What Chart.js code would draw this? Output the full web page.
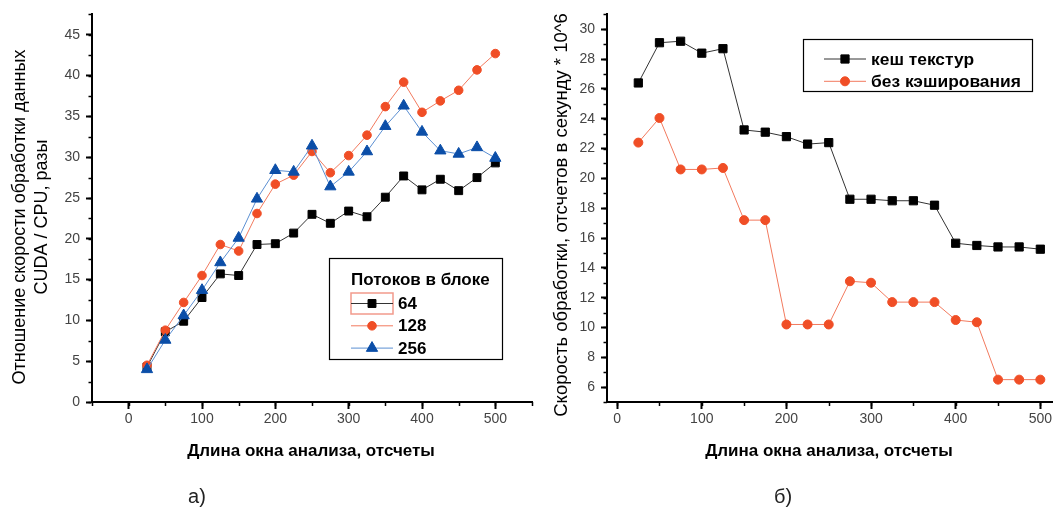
<!DOCTYPE html>
<html>
<head>
    <meta charset="UTF-8">
    <title>CUDA / CPU</title>
    <script src="https://cdn.jsdelivr.net/npm/chart.js"></script>
    <style>
        body { margin: 0; background: #fff; }
        canvas { position: absolute; top: 0; }
        #chartA { left: 0; }
        #chartB { left: 540px; }
    </style>
</head>
<body>
    <canvas id="chartA" width="540" height="510"></canvas>
    <canvas id="chartB" width="514" height="510"></canvas>

    <script>
        // data
        var windowLen = [25, 50, 75, 100, 125, 150, 175, 200, 225, 250, 275, 300, 325, 350, 375, 400, 425, 450, 475, 500];

        // a) speed-up, threads per block
        var threads64 = [4.3, 8.6, 9.9, 12.8, 15.7, 15.5, 19.3, 19.4, 20.7, 23.0, 21.9, 23.4, 22.7, 25.1, 27.7, 26.0, 27.3, 25.9, 27.5, 29.3];
        var threads128 = [4.5, 8.8, 12.2, 15.5, 19.3, 18.5, 23.1, 26.7, 27.8, 30.7, 28.1, 30.2, 32.7, 36.2, 39.2, 35.5, 36.9, 38.2, 40.7, 42.7];
        var threads256 = [4.0, 7.6, 10.6, 13.7, 17.1, 20.1, 24.9, 28.4, 28.2, 31.4, 26.4, 28.2, 30.7, 33.8, 36.3, 33.1, 30.8, 30.4, 31.2, 29.9];

        // b) samples per second * 10^6
        var texCache = [26.4, 29.1, 29.2, 28.4, 28.7, 23.25, 23.1, 22.8, 22.3, 22.4, 18.6, 18.6, 18.5, 18.5, 18.2, 15.65, 15.5, 15.4, 15.4, 15.25];
        var noCache = [22.4, 24.05, 20.6, 20.6, 20.7, 17.2, 17.2, 10.2, 10.2, 10.2, 13.1, 13.0, 11.7, 11.7, 11.7, 10.5, 10.35, 6.5, 6.5, 6.5];

        var xTicks = [0, 100, 200, 300, 400, 500];
        var yTicksA = [0, 5, 10, 15, 20, 25, 30, 35, 40, 45];
        var yTicksB = [6, 8, 10, 12, 14, 16, 18, 20, 22, 24, 26, 28, 30];

        var FONT = '"Liberation Sans", Arial, sans-serif';

        function points(arr) {
            return windowLen.map(function (x, i) { return { x: x, y: arr[i] }; });
        }

        function setTicks(list) {
            return function (scale) {
                scale.ticks = list.map(function (v) { return { value: v }; });
            };
        }

        // short ticks between the labelled ones
        var minorTicks = {
            id: 'minorTicks',
            afterDraw: function (chart, args, o) {
                var ctx = chart.ctx;
                ctx.save();
                ctx.strokeStyle = '#000';
                ctx.lineWidth = 1.5;
                ['x', 'y'].forEach(function (id) {
                    var s = chart.scales[id];
                    var step = o[id];
                    var v = Math.ceil(s.min / step - 1e-9) * step;
                    for (; v <= s.max + 1e-9; v += step) {
                        var p = Math.round(s.getPixelForValue(v)) + 0.5;
                        ctx.beginPath();
                        if (id === 'x') {
                            ctx.moveTo(p, s.top);
                            ctx.lineTo(p, s.top + 4);
                        } else {
                            ctx.moveTo(s.right, p);
                            ctx.lineTo(s.right - 3.5, p);
                        }
                        ctx.stroke();
                    }
                });
                ctx.restore();
            }
        };

        // axis titles + caption under each chart
        var titles = {
            id: 'titles',
            afterDraw: function (chart, args, o) {
                var ctx = chart.ctx;
                ctx.save();
                ctx.fillStyle = '#000';
                ctx.textAlign = 'center';
                ctx.textBaseline = 'middle';

                ctx.font = 'bold 17px ' + FONT;
                ctx.fillText(o.xTitle, o.xTitleX, o.xTitleY);

                ctx.font = o.yFont;
                o.yTitle.forEach(function (line, i) {
                    ctx.save();
                    ctx.translate(o.yTitleX[i], o.yTitleY);
                    ctx.rotate(-Math.PI / 2);
                    ctx.fillText(line, 0, 0);
                    ctx.restore();
                });

                ctx.fillStyle = '#222';
                ctx.font = '20px ' + FONT;
                ctx.fillText(o.caption, o.captionX, o.captionY);
                ctx.restore();
            }
        };

        // framed legend inside the plot
        var boxLegend = {
            id: 'boxLegend',
            afterDraw: function (chart, args, o) {
                var ctx = chart.ctx;
                ctx.save();
                ctx.fillStyle = '#fff';
                ctx.fillRect(o.x, o.y, o.w, o.h);
                ctx.strokeStyle = '#000';
                ctx.lineWidth = 1.2;
                ctx.strokeRect(o.x + 0.5, o.y + 0.5, o.w, o.h);

                ctx.textBaseline = 'middle';
                ctx.textAlign = 'left';
                ctx.fillStyle = '#000';
                if (o.title) {
                    ctx.font = 'bold 17px ' + FONT;
                    ctx.fillText(o.title, o.titleX, o.titleY);
                }
                if (o.highlight) {
                    ctx.strokeStyle = '#f29a8c';
                    ctx.lineWidth = 1.5;
                    ctx.strokeRect(o.highlight[0], o.highlight[1], o.highlight[2], o.highlight[3]);
                }

                chart.data.datasets.forEach(function (ds, i) {
                    var y = o.rowY + i * o.rowGap;
                    ctx.strokeStyle = ds.borderColor;
                    ctx.lineWidth = 1;
                    ctx.beginPath();
                    ctx.moveTo(o.lineX, y);
                    ctx.lineTo(o.lineX + o.lineW, y);
                    ctx.stroke();

                    ctx.fillStyle = ds.backgroundColor;
                    ctx.strokeStyle = ds.pointBorderColor;
                    Chart.helpers.drawPoint(ctx, {
                        pointStyle: ds.pointStyle,
                        radius: ds.pointRadius,
                        rotation: 0,
                        borderWidth: ds.pointBorderWidth
                    }, o.lineX + o.lineW / 2, y);

                    ctx.fillStyle = '#000';
                    ctx.font = o.font;
                    ctx.fillText(ds.label, o.textX, y + 1);
                });
                ctx.restore();
            }
        };

        function xScale(min, max) {
            return {
                type: 'linear',
                min: min,
                max: max,
                afterBuildTicks: setTicks(xTicks),
                afterFit: function (s) { s.height = 108; },
                grid: { drawOnChartArea: false, drawTicks: true, tickLength: 7, tickWidth: 2, tickColor: '#000', color: '#000' },
                border: { display: true, color: '#000', width: 2 },
                ticks: { autoSkip: false, maxRotation: 0, padding: 2, color: '#444', font: { family: FONT, size: 14 } }
            };
        }

        function yScale(min, max, list, width) {
            return {
                type: 'linear',
                min: min,
                max: max,
                afterBuildTicks: setTicks(list),
                afterFit: function (s) { s.width = width; },
                grid: { drawOnChartArea: false, drawTicks: true, tickLength: 6, tickWidth: 2, tickColor: '#000', color: '#000' },
                border: { display: true, color: '#000', width: 2 },
                ticks: { autoSkip: false, padding: 6, color: '#444', font: { family: FONT, size: 14 } }
            };
        }

        function series(label, arr, line, fill, style, r, order) {
            return {
                label: label,
                data: points(arr),
                borderColor: line,
                borderWidth: 1,
                backgroundColor: fill,
                pointBackgroundColor: fill,
                pointBorderColor: fill,
                pointBorderWidth: 1,
                pointStyle: style,
                pointRadius: r,
                tension: 0,
                order: order
            };
        }

        new Chart(document.getElementById('chartA'), {
            type: 'line',
            data: {
                datasets: [
                    series('64', threads64, '#333333', '#000000', 'rect', 5.6, 3),
                    series('128', threads128, '#f27a5e', '#f04e26', 'circle', 4.3, 2),
                    series('256', threads256, '#5b8fd2', '#0b4ea8', 'triangle', 6.5, 1)
                ]
            },
            options: {
                responsive: false,
                animation: false,
                layout: { autoPadding: false, padding: { left: 0, top: 12, right: 8, bottom: 0 } },
                scales: {
                    x: xScale(-50, 550),
                    y: yScale(0, 47.5, yTicksA, 92)
                },
                plugins: {
                    legend: { display: false },
                    tooltip: { enabled: false },
                    minorTicks: { x: 50, y: 2.5 },
                    titles: {
                        xTitle: 'Длина окна анализа, отсчеты', xTitleX: 311, xTitleY: 451,
                        yTitle: ['Отношение скорости обработки данных', 'CUDA / CPU, разы'],
                        yTitleX: [20, 42], yTitleY: 217, yFont: '18px ' + FONT,
                        caption: 'а)', captionX: 197, captionY: 497
                    },
                    boxLegend: {
                        x: 329, y: 258, w: 173, h: 101,
                        title: 'Потоков в блоке', titleX: 351, titleY: 280,
                        highlight: [351, 293, 42, 21],
                        rowY: 303.5, rowGap: 22.3, lineX: 351, lineW: 42, textX: 398,
                        font: 'bold 17px ' + FONT
                    }
                }
            },
            plugins: [minorTicks, titles, boxLegend]
        });

        new Chart(document.getElementById('chartB'), {
            type: 'line',
            data: {
                datasets: [
                    series('кеш текстур', texCache, '#333333', '#000000', 'rect', 5.8, 1),
                    series('без кэширования', noCache, '#f27a5e', '#f04e26', 'circle', 4.5, 2)
                ]
            },
            options: {
                responsive: false,
                animation: false,
                layout: { autoPadding: false, padding: { left: 0, top: 12.7, right: 0, bottom: 0 } },
                scales: {
                    x: xScale(-12, 514),
                    y: yScale(5, 31, yTicksB, 67)
                },
                plugins: {
                    legend: { display: false },
                    tooltip: { enabled: false },
                    minorTicks: { x: 50, y: 1 },
                    titles: {
                        xTitle: 'Длина окна анализа, отсчеты', xTitleX: 289, xTitleY: 451,
                        yTitle: ['Скорость обработки, отсчетов в секунду * 10^6'],
                        yTitleX: [22], yTitleY: 215, yFont: '18.5px ' + FONT,
                        caption: 'б)', captionX: 243, captionY: 497
                    },
                    boxLegend: {
                        x: 263, y: 39, w: 229, h: 52,
                        rowY: 59, rowGap: 22.3, lineX: 284, lineW: 42, textX: 331,
                        font: 'bold 17.4px ' + FONT
                    }
                }
            },
            plugins: [minorTicks, titles, boxLegend]
        });
    </script>
</body>
</html>
